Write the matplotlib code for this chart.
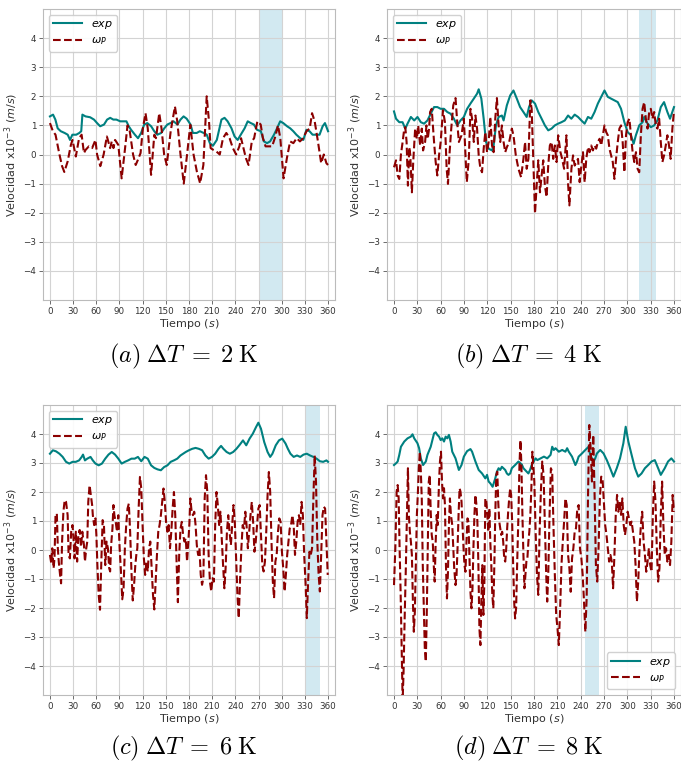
import numpy as np
import matplotlib
matplotlib.use('Agg')
import matplotlib.pyplot as plt

# ---- panel (a)  dT = 2 K
ta_exp = [0, 4, 7, 10, 14, 19, 23, 26, 29, 34,
          38, 40.5, 42, 46, 52, 57, 61, 65, 70, 74,
          78, 82, 86, 91, 95, 99, 102, 105, 110, 114,
          118, 122, 126, 131, 135, 139, 144, 148, 152, 156,
          160, 165, 169, 173, 177, 182, 185, 190, 194, 199,
          203, 207, 211, 216, 222, 226, 230, 235, 239, 243,
          247, 252, 256, 260, 264, 268, 273, 277, 281, 285,
          290, 294, 298, 302, 307, 311, 315, 319, 324, 328,
          332, 336, 340, 345, 349, 353, 356, 360]
a_exp = [1.31, 1.37, 1.2, 0.9, 0.8, 0.74, 0.68, 0.5, 0.68, 0.68,
         0.74, 0.8, 1.37, 1.31, 1.28, 1.2, 1.08, 0.97, 1.03, 1.2,
         1.26, 1.2, 1.2, 1.14, 1.14, 1.14, 0.97, 0.85, 0.68, 0.56,
         0.74, 1.03, 1.08, 0.97, 0.8, 0.68, 0.74, 0.9, 1.03, 1.08,
         1.14, 1.03, 1.2, 1.31, 1.23, 1.03, 0.74, 0.74, 0.8, 0.74,
         0.68, 0.39, 0.3, 0.5, 1.2, 1.26, 1.14, 0.9, 0.62, 0.5,
         0.68, 0.9, 1.14, 1.08, 1.03, 0.85, 0.8, 0.45, 0.39, 0.45,
         0.68, 0.9, 1.14, 1.08, 0.97, 0.9, 0.8, 0.68, 0.56, 0.5,
         0.85, 0.8, 0.68, 0.68, 0.68, 0.97, 1.08, 0.8]
ta_wp = [0, 3.8, 7.2, 12.3, 15.7, 18.6, 22.9, 27.1, 29.2, 33.5,
         37.7, 41, 44, 46.2, 50.4, 54.6, 58.9, 61, 65.2, 69.5,
         73.7, 77.9, 80, 82.2, 84.3, 88.5, 92.8, 97, 100.4, 103.3,
         107.6, 111, 113.9, 117.3, 120.3, 123.7, 126.6, 130.9, 135.1, 137.2,
         141.5, 144.4, 147.8, 151.2, 156.3, 161.8, 164.8, 169, 173.2, 177.5,
         181.7, 185.9, 190.2, 194.4, 198.6, 202.9, 205.9, 208, 211.4, 215.6,
         219.8, 224, 228.3, 232.5, 236.8, 241, 245.2, 247.4, 249.5, 253.7,
         257.1, 261.3, 264.3, 268.5, 272.8, 275.7, 279.1, 283.4, 287.6, 291.8,
         295.2, 298.2, 302.4, 306.7, 310.9, 315.1, 319.4, 323.6, 327.8, 332.1,
         336.3, 339.3, 342.7, 346.9, 351.1, 354.5, 357.9, 360]
a_wp = [1.08, 0.8, 0.68, 0.0, -0.4, -0.6, -0.24, 0.33, 0.5, -0.07,
        0.56, 0.68, 0.05, 0.16, 0.28, 0.22, 0.5, 0.0, -0.4, 0.0,
        0.62, 0.22, 0.45, 0.22, 0.5, 0.33, -0.82, 0.16, 1.0, 0.8,
        0.0, -0.36, -0.18, 0.05, 0.9, 1.42, 0.9, -0.7, 0.68, 0.56,
        1.42, 0.9, 0.0, -0.36, 0.8, 1.65, 1.14, 0.0, -1.0, 0.0,
        1.02, 0.0, -0.59, -0.99, -0.36, 2.0, 1.14, 0.22, 0.16, 0.1,
        0.0, 0.56, 0.74, 0.56, 0.22, 0.0, 0.28, 0.56, 0.33, -0.13,
        -0.36, 0.45, 0.56, 1.14, 1.03, 0.56, 0.28, 0.28, 0.28, 0.62,
        1.0, 0.56, -0.82, -0.13, 0.45, 0.39, 0.56, 0.45, 0.56, 0.8,
        0.9, 1.42, 1.14, 0.45, -0.3, 0.0, -0.3, -0.36]

# ---- panel (b)  dT = 4 K
tb_exp = [0, 2.6, 6.8, 11, 14.5, 17.4, 21.7, 26, 30.2, 34.5,
          38.7, 43, 47.2, 51.5, 55.7, 60, 64.3, 68.5, 72.8, 77,
          81.3, 85.5, 89.8, 94, 98.3, 102.6, 106.8, 108.9, 112.3, 115.3,
          118.3, 121.7, 126, 128.1, 131.1, 134.5, 138.7, 140.9, 145.1, 149.4,
          153.6, 157.9, 162.1, 166.4, 170.6, 173.6, 177, 181.3, 185.5, 189.8,
          194, 198.3, 202.6, 206.8, 211, 215.3, 219.6, 223.8, 228, 232.3,
          236.6, 240.9, 245.1, 249.4, 253.6, 257.9, 262.1, 266.4, 270.6, 274.9,
          279.1, 283.4, 287.7, 291.9, 296.2, 300.4, 304.7, 308.1, 311, 315.3,
          319.6, 321.7, 326, 330.2, 334.5, 338.7, 343, 347.2, 351.5, 354.9,
          360]
b_exp = [1.48, 1.23, 1.11, 1.11, 0.89, 1.06, 1.29, 1.17, 1.29, 1.11,
         1.06, 1.17, 1.40, 1.63, 1.63, 1.57, 1.57, 1.46, 1.40, 1.23,
         1.0, 1.17, 1.29, 1.57, 1.75, 1.92, 2.09, 2.24, 1.92, 1.23,
         0.43, 0.2, 0.14, 0.31, 1.0, 1.29, 1.34, 1.17, 1.69, 2.03,
         2.2, 1.92, 1.63, 1.46, 1.29, 1.63, 1.86, 1.75, 1.46, 1.23,
         1.0, 0.83, 0.89, 1.0, 1.06, 1.11, 1.17, 1.34, 1.23, 1.37,
         1.29, 1.17, 1.06, 1.29, 1.23, 1.46, 1.75, 1.98, 2.2, 1.98,
         1.92, 1.86, 1.8, 1.57, 1.11, 0.77, 0.66, 0.37, 0.66, 1.0,
         1.11, 1.29, 1.06, 0.94, 1.0, 1.17, 1.63, 1.8, 1.46, 1.23,
         1.63]
tb_wp = [0, 2.6, 4.7, 6.8, 8.9, 11.1, 13.2, 14.5, 16.2, 17.9,
         19.6, 20.9, 23, 24.7, 27.2, 29.4, 31.1, 33.6, 35.7, 37.4,
         40, 41.7, 43.4, 45.1, 46.4, 48.5, 51.5, 53.6, 55.7, 57.9,
         60, 63, 65.5, 67.7, 69.4, 71.5, 73.6, 76.2, 79.1, 81.3,
         83.4, 86.8, 89.8, 91.9, 93.6, 96.2, 98.3, 100.4, 102.6, 104.7,
         106.8, 108.9, 111.1, 113.2, 115.3, 117.4, 119.6, 121.7, 123.8, 126,
         128.1, 130.2, 132.3, 134.5, 136.6, 138.7, 140.9, 143, 145.1, 148.1,
         151.5, 153.6, 156.6, 160, 163.4, 166.4, 168.5, 170.6, 172.8, 175.3,
         177, 179.1, 181.3, 183.4, 185.5, 187.7, 189.8, 191.9, 194, 196.2,
         198.3, 200.4, 202.6, 204.7, 206.8, 209, 211.1, 214, 216.2, 218.7,
         221.7, 223.8, 225.5, 228.1, 230.2, 232.3, 234.5, 236.6, 238.7, 240.9,
         243, 245.1, 247.2, 249.4, 251.5, 253.6, 255.7, 257.9, 260, 262.1,
         264.3, 266.4, 268.5, 270.6, 272.8, 274.9, 277, 279.1, 281.3, 283.4,
         285.5, 287.7, 289.8, 291.9, 294, 296.2, 298.3, 300.4, 302.6, 304.7,
         306.8, 308.9, 311.1, 313.2, 315.3, 317.4, 319.6, 321.7, 323.8, 326,
         328.1, 330.2, 332.3, 334.5, 336.6, 338.7, 340.9, 343, 345.1, 347.2,
         349.4, 351.5, 353.6, 355.7, 357.9, 360]
b_wp = [-0.44, -0.2, -0.72, -0.84, 0.0, 0.43, 0.89, 0.94, 0.43, -1.07,
        0.25, 0.0, -1.3, -0.26, 0.89, 0.54, 1.0, 0.31, 0.89, 0.14,
        0.43, 1.0, 0.54, 0.89, 1.46, 1.57, 0.43, -0.26, -0.72, -0.03,
        0.43, 1.52, 1.11, -0.49, -1.01, 0.08, 0.89, 1.69, 1.94, 1.11,
        0.43, 0.66, 1.23, -0.03, -0.95, -0.15, 1.57, 1.23, 0.43, 1.34,
        0.89, -0.03, -0.49, -0.61, 0.2, 0.77, 0.08, 0.43, 1.29, 0.31,
        0.08, 1.23, 1.94, 1.0, 0.43, 1.0, 0.43, 0.08, 0.25, 0.43,
        0.89, 0.66, -0.03, -0.49, -0.78, -0.15, 0.43, -0.49, -0.15, 1.86,
        1.57, -0.15, -2.03, -1.07, -0.2, -1.3, -0.72, -0.2, -1.07, -1.46,
        -0.38, 0.31, 0.43, -0.15, 0.31, -0.26, 0.66, 0.08, -0.15, -0.49,
        0.66, -1.0, -1.75, -0.49, -0.03, -0.38, -0.26, -0.15, -0.95, -0.38,
        0.08, -0.95, -0.15, 0.25, 0.08, 0.31, 0.14, 0.31, 0.2, 0.43,
        0.54, 0.31, 0.66, 1.0, 0.77, 0.66, 0.2, -0.03, -0.26, -0.84,
        -0.15, 0.43, 0.89, 1.0, 0.43, -0.61, 0.66, 1.11, 1.23, 0.66,
        0.08, -0.26, 0.08, -0.49, -0.61, 0.66, 1.57, 1.8, 1.23, 0.89,
        1.46, 1.57, 1.23, 1.46, 1.0, 0.89, 1.23, 0.43, -0.26, -0.03,
        0.31, 0.66, 0.31, -0.15, 0.89, 1.5]

# ---- panel (c)  dT = 6 K
tc_exp = [0, 3.8, 8, 12.3, 16.5, 20.8, 25, 29.2, 33.5, 37.7,
          41.1, 42.8, 45.3, 48.3, 52.5, 55.5, 58.9, 63.1, 67.3, 71.6,
          75.8, 80, 84.3, 88.5, 92.8, 97, 101.2, 105.5, 109.7, 113.9,
          118.2, 122.4, 126.6, 130.9, 135.1, 139.3, 143.6, 147.8, 152.1, 156.3,
          160.5, 164.8, 169, 175.8, 180, 184.2, 188.5, 192.7, 197, 201.2,
          205.4, 209.7, 213.9, 218.2, 221.5, 224.5, 228.7, 232.9, 237.2, 241.4,
          245.7, 249.9, 254.1, 258.4, 262.6, 266.8, 269.8, 273.2, 277.4, 281.7,
          285.1, 288, 292.3, 296.5, 300.7, 305, 308, 311.3, 315.5, 319.8,
          324, 328.3, 332.5, 336.7, 341, 345.2, 349.4, 353.7, 357.9, 360]
c_exp = [3.32, 3.44, 3.40, 3.32, 3.21, 3.04, 2.98, 3.04, 3.04, 3.09,
         3.21, 3.29, 3.09, 3.15, 3.21, 3.09, 2.98, 2.92, 2.98, 3.15,
         3.29, 3.38, 3.29, 3.15, 2.98, 3.04, 3.09, 3.15, 3.15, 3.21,
         3.06, 3.21, 3.15, 2.92, 2.83, 2.78, 2.75, 2.86, 2.92, 3.04,
         3.09, 3.15, 3.26, 3.38, 3.44, 3.49, 3.52, 3.49, 3.44, 3.26,
         3.15, 3.21, 3.32, 3.49, 3.59, 3.49, 3.38, 3.32, 3.38, 3.49,
         3.63, 3.78, 3.61, 3.84, 4.01, 4.24, 4.39, 4.18, 3.72, 3.38,
         3.21, 3.32, 3.61, 3.78, 3.84, 3.67, 3.49, 3.32, 3.21, 3.26,
         3.21, 3.29, 3.32, 3.26, 3.21, 3.15, 3.06, 3.04, 3.09, 3.04]
tc_wp = [0, 1.7, 3, 4.7, 5.9, 7.2, 8.9, 10.2, 11.4, 13.1,
         14.4, 15.7, 17.4, 19.1, 20.8, 22.9, 24.1, 25.8, 27.5, 29.2,
         30.5, 31.8, 33.5, 35.2, 36.8, 38.5, 40.2, 41.9, 44, 45.3,
         47, 48.3, 49.6, 51.3, 52.9, 54.6, 55.5, 57.2, 58.9, 60.1,
         61.4, 63.1, 64.8, 66.5, 68.2, 69.9, 71.6, 73.3, 75, 76.7,
         77.9, 79.2, 80.9, 82.2, 83.4, 85.1, 86.8, 88.5, 90.2, 91.9,
         93.6, 95.3, 97, 98.7, 100.4, 102.1, 103.8, 105.5, 107.2, 108.9,
         110.5, 111.8, 113.1, 114.8, 116.5, 118.2, 119.9, 121.6, 123.2, 124.9,
         126.6, 128.3, 129.9, 131.7, 133.4, 135.1, 136.8, 138.5, 140.2, 141.9,
         143.6, 145.3, 147, 148.7, 150.3, 152.1, 153.7, 155.4, 157.1, 158.8,
         160.5, 162.2, 163.9, 165.6, 167.3, 169, 170.7, 172.4, 174.1, 175.8,
         177.5, 179.2, 180.5, 181.7, 183.4, 185.1, 186.8, 188.5, 190.1, 191.8,
         193.5, 195.2, 196.9, 198.6, 200.3, 202, 203.7, 205.4, 207.1, 208.8,
         210.5, 212.2, 213.9, 215.6, 217.3, 219, 220.7, 222.4, 224.1, 225.8,
         227.4, 229.1, 230.8, 232.5, 234.2, 235.9, 237.6, 239.3, 241, 242.7,
         244.4, 246, 247.8, 249.5, 251.2, 252.9, 254.5, 256.2, 257.9, 259.6,
         261.3, 263, 264.7, 266.4, 268.1, 269.8, 271.5, 273.2, 274.9, 276.6,
         278.3, 280, 281.7, 283.4, 285.1, 286.8, 288.5, 290.1, 291.8, 293.5,
         295.2, 296.9, 298.6, 300.3, 302, 303.7, 305.4, 307.1, 308.8, 310.4,
         312.1, 313.8, 315.5, 317.2, 318.9, 320.6, 322.3, 324, 325.7, 327.4,
         329.1, 330.8, 332.5, 334.2, 335.9, 337.6, 339.3, 341, 342.7, 344.4,
         346.1, 347.8, 349.4, 351.1, 352.8, 354.5, 356.2, 357.9, 359.6]
c_wp = [-0.17, -0.46, 0.06, -0.63, -0.29, 1.2, 1.26, 0.06, -0.4, -0.86,
        -1.15, 0.29, 1.32, 1.72, 1.66, 1.2, -0.17, -0.29, 0.63, 0.86,
        0.4, -0.29, 0.63, -0.4, 0.52, 0.69, 0.11, 0.63, 0.17, -0.4,
        0.06, 0.29, 1.66, 2.23, 1.89, 1.55, 1.2, 0.86, 1.09, 0.52,
        -0.52, -1.55, -2.06, -0.4, 1.03, 0.86, -0.52, 0.29, 0.06, -0.63,
        -0.74, 0.17, 0.74, 1.55, 1.2, 0.97, 0.63, 1.2, 0.06, -0.74,
        -1.7, -1.32, 0.06, 0.86, 1.43, 1.6, 0.63, -0.74, -1.74, -1.2,
        -0.52, -0.17, 0.06, 1.43, 2.52, 2.12, 0.86, -0.29, -0.86, -0.4,
        -0.74, 0.06, 0.29, -0.63, -1.55, -2.05, -1.09, -0.17, 0.63, 0.86,
        1.2, 1.66, 2.12, 1.66, 0.97, 0.63, 0.86, 0.06, 0.63, 1.43,
        2.0, 1.2, -0.4, -1.8, -0.17, 0.74, 0.97, 0.52, 0.29, 0.4,
        -0.4, 0.3, 0.9, 1.78, 1.32, 1.2, 1.32, 0.86, 0.17, -0.17,
        0.06, -0.86, -1.2, -0.97, 1.78, 2.58, 2.0, -0.17, -1.09, -1.43,
        -0.97, -1.09, 0.86, 2.0, 1.55, 0.86, 1.32, 0.4, -0.52, -1.32,
        -0.63, 0.63, 1.2, 0.63, 0.17, 0.86, 1.55, 0.97, -0.29, -1.55,
        -2.35, -1.09, 0.06, 0.86, 0.74, 1.32, 0.86, 0.06, 0.63, 1.2,
        1.66, 0.97, -0.06, 0.29, 0.86, 1.43, 1.55, 0.52, -0.52, -0.74,
        -0.4, 0.63, 1.89, 2.69, 2.0, 0.29, -1.09, -1.66, -0.4, -0.17,
        0.63, 1.09, 0.97, -0.06, -0.63, -1.43, -0.86, -0.17, 0.29, 0.74,
        0.86, 1.2, 0.86, -0.17, 0.29, 0.97, 1.2, 0.86, 1.66, 1.2,
        -0.17, -1.09, -2.35, -1.09, -0.06, -0.17, 0.06, 1.78, 3.26, 2.35,
        0.29, -0.86, -1.43, -0.17, 1.2, 1.49, 1.43, 0.29, -0.86]

# ---- panel (d)  dT = 8 K
td_exp = [0, 2.6, 4.7, 6.8, 8.9, 13.2, 17.4, 21.7, 23.8, 26,
          30.2, 32.3, 34.5, 37.4, 40.9, 43, 47.2, 51.5, 53.6, 55.7,
          57.9, 60, 62.1, 64.3, 66.4, 68.5, 70.6, 72.8, 74.9, 79.1,
          83.4, 86.8, 89.8, 94, 98.3, 100.4, 104.7, 108.9, 113.2, 117.4,
          119.6, 121.7, 123.8, 126.8, 130.2, 132.3, 134.5, 136.6, 138.7, 143,
          145.1, 147.2, 149.4, 151.5, 155.7, 160, 164.3, 166.4, 170.6, 172.8,
          174.9, 177, 182, 184.3, 188.5, 192.8, 197, 201.3, 203.4, 205.5,
          207.7, 211.9, 216.2, 220.4, 222.6, 224.7, 228.9, 233.2, 235.3, 237.4,
          241.7, 246, 250.2, 252.3, 254.5, 256.6, 258.7, 260.9, 265.1, 269.4,
          273.6, 277.9, 282.1, 286.4, 290.6, 294.9, 297.9, 301.3, 305.5, 309.8,
          314, 318.3, 322.6, 326.8, 331.1, 335.3, 339.6, 343, 348.1, 352.3,
          356.6, 360]
d_exp = [2.93, 2.99, 3.05, 3.28, 3.56, 3.74, 3.85, 3.91, 3.99, 3.85,
         3.68, 3.51, 3.16, 2.93, 3.05, 3.28, 3.56, 4.02, 4.06, 3.97,
         3.91, 3.79, 3.85, 3.74, 3.91, 3.85, 3.97, 3.74, 3.39, 3.16,
         2.76, 2.93, 3.22, 3.41, 3.48, 3.39, 3.05, 2.76, 2.64, 2.47,
         2.59, 2.36, 2.30, 2.18, 2.47, 2.70, 2.82, 2.76, 2.87, 2.76,
         2.64, 2.59, 2.64, 2.82, 2.93, 3.05, 2.95, 2.82, 2.70, 2.64,
         2.76, 2.93, 3.16, 3.10, 3.16, 3.22, 3.16, 3.28, 3.56, 3.45,
         3.51, 3.39, 3.45, 3.39, 3.51, 3.39, 3.22, 2.93, 3.05, 3.22,
         3.33, 3.45, 3.56, 3.28, 3.16, 3.05, 3.16, 3.33, 3.45, 3.33,
         3.10, 2.82, 2.53, 2.82, 3.16, 3.68, 4.25, 3.74, 3.28, 2.82,
         2.53, 2.64, 2.82, 2.93, 3.05, 3.10, 2.82, 2.59, 2.82, 3.05,
         3.16, 3.05]
td_wp = [0, 1.7, 3.4, 4.7, 6, 7.2, 8.5, 9.8, 11.1, 12.3,
         13.6, 15.3, 16.6, 17.9, 19.1, 20.4, 21.7, 23, 24.3, 25.5,
         26.8, 28.1, 29.4, 30.6, 31.9, 33.2, 34.5, 35.7, 37, 38.3,
         39.6, 40.9, 42.1, 43.4, 44.7, 46, 47.2, 48.5, 49.8, 51.1,
         52.3, 53.6, 54.9, 56.2, 57.9, 59.1, 60.4, 61.7, 63, 64.3,
         65.5, 66.8, 68.1, 69.4, 70.6, 71.9, 73.2, 74.9, 76.2, 77.4,
         79.1, 80.4, 81.7, 83, 84.3, 85.5, 86.8, 88.1, 89.4, 90.6,
         91.9, 93.2, 94.5, 95.7, 97, 98.3, 99.6, 100.9, 102.1, 103.4,
         104.7, 106, 107.2, 108.5, 109.8, 111.1, 112.3, 113.6, 114.9, 116.2,
         117.4, 118.7, 120, 121.3, 122.6, 123.8, 125.1, 126.4, 127.7, 129,
         130.2, 131.5, 132.8, 134, 135.3, 136.6, 137.9, 139.1, 140.4, 141.7,
         143, 144.3, 145.5, 146.8, 148.1, 149.4, 150.6, 151.9, 153.2, 154.5,
         155.7, 157, 158.3, 160, 161.3, 162.6, 163.8, 165.1, 166.4, 167.7,
         169, 170.2, 171.5, 172.8, 174, 175.3, 176.6, 177.9, 179.1, 180.4,
         182.1, 183.8, 185.5, 187.2, 189, 190.6, 192.3, 194, 195.7, 197,
         198.3, 200, 201.7, 203.4, 205, 206.8, 208.5, 210.2, 211.9, 213.6,
         215.3, 217, 218.7, 220.4, 222.1, 223.8, 225.5, 227.2, 228.9, 230.6,
         232.3, 234, 235.7, 237.4, 239.1, 240.9, 242.6, 244.3, 246, 247.7,
         249.4, 251.1, 252.8, 254.5, 256.2, 258, 259.6, 261.3, 263, 264.7,
         266.4, 268.1, 269.8, 271.5, 273.2, 274.9, 276.6, 278.3, 280, 281.7,
         283.4, 285.1, 286.8, 288.5, 290.2, 291.9, 293.6, 295.3, 297, 298.7,
         300.4, 302.1, 303.8, 305.5, 307.2, 308.9, 310.6, 312.3, 314, 315.7,
         317.4, 319.1, 320.9, 322.6, 324.3, 326, 327.7, 329.4, 331.1, 332.8,
         334.5, 336.2, 337.9, 339.6, 341.3, 343, 344.7, 346.4, 348.1, 349.8,
         351.5, 353.2, 354.9, 356.6, 358.3, 360]
d_wp = [-1.21, 0.06, 2.01, 2.24, 1.78, 0.06, -1.44, -3.39, -5.2, -4.2,
        -2.47, -0.52, 1.21, 2.82, 1.21, 0.63, 0.29, -0.17, -1.78, -2.82,
        -2.13, -0.52, 1.21, 1.9, 2.82, 3.39, 2.70, 1.78, -0.52, -2.01,
        -3.39, -3.85, -2.24, 0.06, 2.36, 2.59, 1.32, 0.52, 0.29, -0.52,
        -1.09, 0.29, 1.21, 0.86, 2.36, 3.05, 3.39, 2.36, 1.78, 2.13,
        1.55, -0.52, -1.67, -0.75, 0.86, 1.78, 1.21, 0.86, 0.06, -0.63,
        -1.21, -0.86, 0.06, 1.21, 2.13, 2.01, 1.67, 0.86, 0.06, -0.52,
        -0.75, 0.29, 1.09, 0.98, -0.17, -1.44, -2.01, -1.32, 0.06, 1.21,
        1.9, 1.55, 0.98, -0.52, -2.70, -3.28, -1.78, -0.52, -2.24, -1.09,
        1.78, 1.67, 1.21, 0.63, 1.44, 0.29, -0.52, -1.55, -2.01, -0.52,
        1.21, 2.59, 2.70, 1.67, 0.98, 0.75, 0.52, 0.63, 0.29, -0.29,
        -0.40, 0.06, 0.75, 1.32, 1.78, 2.13, 1.9, 0.98, -0.52, -1.78,
        -2.36, -2.01, -0.52, 1.21, 2.93, 3.79, 2.93, 1.21, -0.17, -1.32,
        -0.86, -0.40, -0.29, 0.29, 0.63, 1.21, 2.13, 3.39, 2.93, 2.36,
        0.63, -0.86, -1.55, 0.63, 2.13, 3.05, 2.59, 0.86, -0.86, -1.78,
        -0.86, 1.21, 2.82, 2.70, 0.86, -0.86, -2.24, -2.70, -3.28, -2.01,
        -0.52, 0.29, 0.98, 1.78, 1.55, -0.17, -0.63, -1.44, -0.29, 0.06,
        0.63, 0.75, 1.44, 1.55, 0.06, -0.29, -0.86, -1.78, -2.82, -1.67,
        1.78, 4.31, 3.51, 2.36, 3.97, 1.78, -0.52, -1.09, 0.06, 1.78,
        2.53, 2.47, 1.67, 0.86, 0.52, 0.06, -0.40, -0.17, -0.40, -1.32,
        -0.17, 1.21, 1.9, 1.32, 1.67, 1.21, 1.78, 0.86, 0.52, 0.86,
        1.32, 1.09, 0.86, 0.98, 0.63, 0.29, -0.52, -1.78, -1.09, 0.06,
        0.86, 1.32, 0.29, -0.17, -0.75, -0.40, 0.06, -0.52, -0.75, 1.21,
        2.36, 1.67, 0.06, -1.09, -0.63, 1.21, 2.36, 0.86, -0.17, 0.06,
        -0.40, -0.17, -0.52, 0.29, 1.90, 1.32]

spans = [(270, 300), (315, 337), (330, 350), (246, 263)]
captions = [r'$(a)\;\Delta T\;=\;2\;\mathrm{K}$', r'$(b)\;\Delta T\;=\;4\;\mathrm{K}$',
            r'$(c)\;\Delta T\;=\;6\;\mathrm{K}$', r'$(d)\;\Delta T\;=\;8\;\mathrm{K}$']

W, H = 681, 765
fig = plt.figure(figsize=(W / 100, H / 100), dpi=100)

# axes boxes in pixels: left, top, right, bottom
boxes = [(43, 9, 335, 300), (387, 9, 681, 300),
         (43, 405, 335, 695), (387, 405, 681, 695)]
series = [(ta_exp, a_exp, ta_wp, a_wp), (tb_exp, b_exp, tb_wp, b_wp),
          (tc_exp, c_exp, tc_wp, c_wp), (td_exp, d_exp, td_wp, d_wp)]
legend_locs = ['upper left', 'upper left', 'upper left', 'lower right']

for i in range(4):
    l, t, r, b = boxes[i]
    ax = fig.add_axes([l / W, 1 - b / H, (r - l) / W, (b - t) / H])
    te, ve, tw, vw = series[i]
    ax.axvspan(spans[i][0], spans[i][1], color='lightblue', alpha=0.55, lw=0)
    ax.plot(te, ve, color='teal', lw=1.5, label='$exp$')
    ax.plot(tw, vw, color='darkred', lw=1.5, ls='--', label=r'$\omega_P$')
    ax.set_xlim(-9, 369)
    ax.set_ylim(-5, 5)
    ax.set_xticks(np.arange(0, 361, 30))
    ax.set_yticks(np.arange(-4, 5, 1))
    ax.grid(True, color='#d3d3d3', lw=0.8)
    ax.tick_params(labelsize=6.3, length=3, width=0.6, color='#555555',
                   labelcolor='#333333', pad=2)
    for s in ax.spines.values():
        s.set_color('#bbbbbb')
        s.set_linewidth(0.8)
    ax.set_xlabel('Tiempo $(s)$', fontsize=8, color='#333333', labelpad=1)
    ax.set_ylabel(r'Velocidad x10$^{-3}$ $(m/s)$', fontsize=8,
                  color='#333333', labelpad=2)
    ax.legend(loc=legend_locs[i], fontsize=8, handlelength=2.6,
              borderpad=0.4, labelspacing=0.4, framealpha=0.9)

    cx = (l + r) / 2 / W
    cy = 1 - (356 if i < 2 else 748) / H
    fig.text(cx - 0.008, cy, captions[i], ha='center', va='center',
             fontsize=17.5, math_fontfamily='cm')

fig.savefig('out.png', dpi=100)
